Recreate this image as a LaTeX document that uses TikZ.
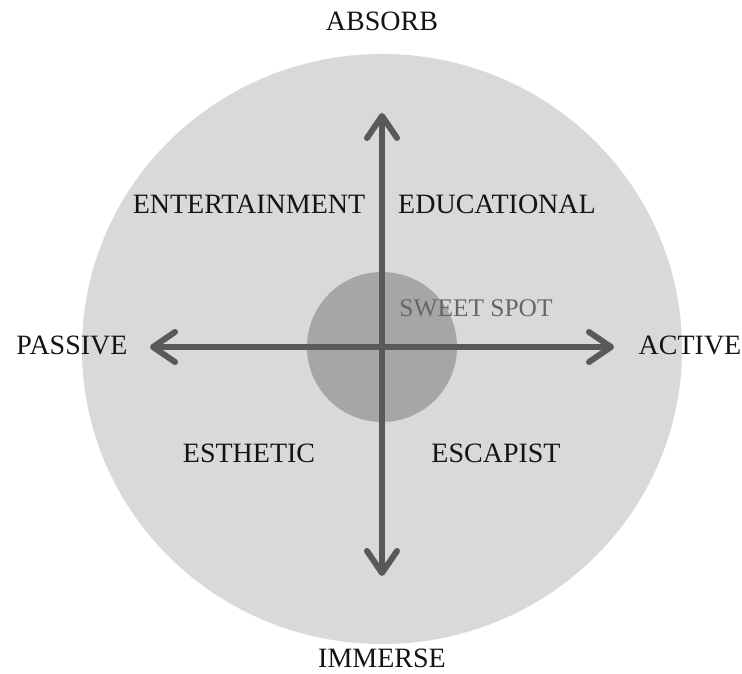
\documentclass[tikz,border=0pt]{standalone}
\usepackage{fontspec}
\setmainfont{Liberation Serif}
\usetikzlibrary{arrows.meta}
\definecolor{bigdisc}{RGB}{217,217,217}
\definecolor{spotdisc}{RGB}{166,166,166}
\definecolor{axisgray}{RGB}{89,89,89}
\definecolor{spottext}{RGB}{102,102,102}
\tikzset{axisline/.style={line width=3pt, draw=axisgray,
  {Straight Barb[length=11pt, width=15pt, line cap=round, line join=round]}-{Straight Barb[length=11pt, width=15pt, line cap=round, line join=round]}}}
\tikzset{label/.style={anchor=base, inner sep=0pt, font=\fontsize{14}{17}\selectfont, text=black!92}}

\begin{document}
\begin{tikzpicture}[x=0.5pt, y=0.5pt]

\useasboundingbox (0,0) rectangle (742,673);

\fill[bigdisc] (382, 324) ellipse [x radius=300, y radius=295];
\fill[spotdisc] (382, 326) circle [radius=75];

\coordinate (west) at (150, 326);
\coordinate (east) at (614, 326);
\coordinate (north) at (382, 560);
\coordinate (south) at (382, 97);

\draw[axisline] (west) -- (east);
\draw[axisline] (north) -- (south);

\node[label] (absorb) at (382, 642) {ABSORB};
\node[label] (immerse) at (382, 6) {IMMERSE};
\node[label] (passive) at (72, 318) {PASSIVE};
\node[label] (active) at (690, 318) {ACTIVE};

\node[label] (entertain) at (249, 459) {ENTERTAINMENT};
\node[label] (educate) at (497, 459) {EDUCATIONAL};
\node[label] (esthetic) at (249, 210) {ESTHETIC};
\node[label] (escapist) at (496, 210) {ESCAPIST};

\node[label, font=\fontsize{12.7}{15}\selectfont, text=spottext] (sweet) at (476, 356) {SWEET SPOT};

\end{tikzpicture}
\end{document}
